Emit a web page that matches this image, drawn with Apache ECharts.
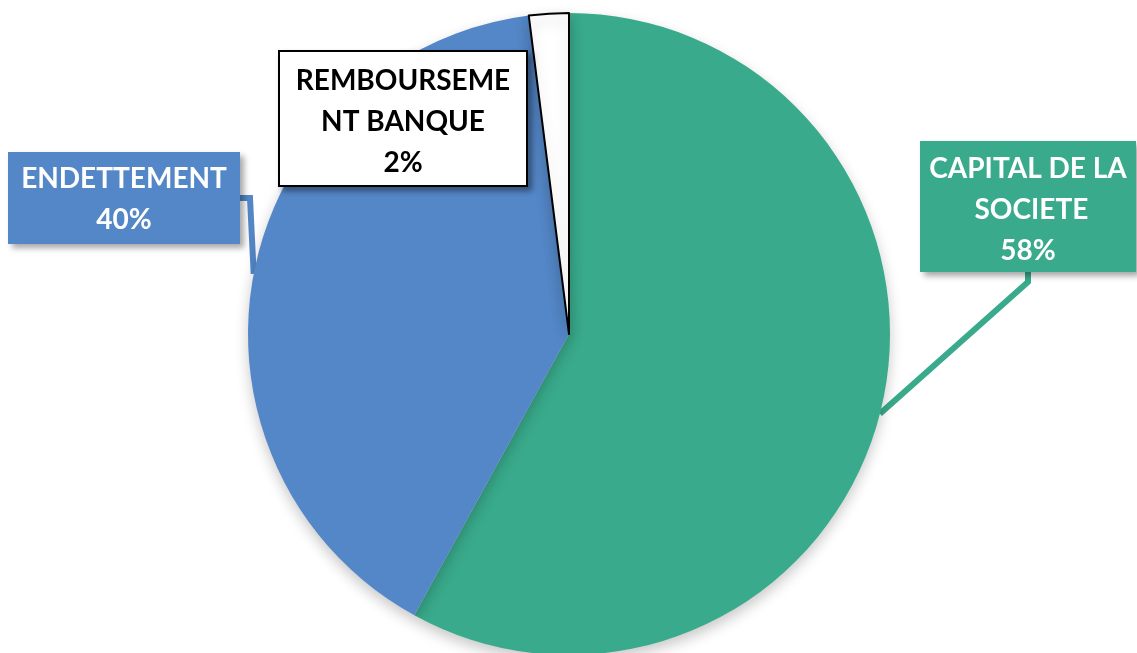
<!DOCTYPE html>
<html>
<head>
<meta charset="utf-8">
<script src="https://cdn.jsdelivr.net/npm/echarts@6/dist/echarts.min.js"></script>
<style>html,body{margin:0;padding:0;background:#fff}#c{width:1137px;height:653px}</style>
</head>
<body>
<div id="c"></div>
<script>
var categories = ['CAPITAL DE LA SOCIETE', 'ENDETTEMENT', 'REMBOURSEMENT BANQUE'];
var values = [58, 40, 2];
var colors = ['#39AA8B', '#5487C7', '#FFFFFF'];

var labelBoxes = [
  {cx: 1028, top: 141, width: 204, pad: [7, 6, 1, 6], bg: '#39AA8B', fg: '#FFFFFF', border: null, overflow: 'break'},
  {cx: 124, top: 152, width: 212, pad: [6, 10, 4, 10], bg: '#5487C7', fg: '#FFFFFF', border: null, overflow: 'break'},
  {cx: 403, top: 52, width: 222, pad: [8, 12, 2, 12], bg: '#FFFFFF', fg: '#000000', border: '#000000', overflow: 'breakAll'}
];

var data = categories.map(function (name, i) {
  var b = labelBoxes[i];
  return {
    name: name,
    value: values[i],
    itemStyle: {
      color: colors[i],
      borderColor: i === 2 ? '#000' : 'transparent',
      borderWidth: i === 2 ? 2 : 0
    },
    label: {
      color: b.fg,
      backgroundColor: b.bg,
      borderColor: b.border || 'transparent',
      borderWidth: b.border ? 2 : 0,
      padding: b.pad,
      width: b.width,
      overflow: b.overflow
    },
    labelLine: {
      lineStyle: {
        color: i === 2 ? '#000' : b.bg,
        width: i === 2 ? 1.5 : 6
      }
    }
  };
});

var chart = echarts.init(document.getElementById('c'), null, {renderer: 'canvas'});
chart.setOption({
  backgroundColor: '#fff',
  animation: false,
  series: [{
    type: 'pie',
    center: [569, 334],
    radius: 321,
    startAngle: 90,
    clockwise: true,
    data: data,
    itemStyle: {
      shadowBlur: 14,
      shadowColor: 'rgba(0,0,0,0.22)',
      shadowOffsetY: 6
    },
    label: {
      show: true,
      formatter: '{b}\n{d}%',
      fontFamily: 'Lato',
      fontWeight: 'bold',
      fontSize: 28,
      lineHeight: 41,
      align: 'center',
      shadowBlur: 6,
      shadowColor: 'rgba(0,0,0,0.35)',
      shadowOffsetX: 4,
      shadowOffsetY: 4,
      textShadowBlur: 0
    },
    labelLine: {show: true, length: 10, length2: 10, smooth: false},
    labelLayout: function (params) {
      var b = labelBoxes[params.dataIndex];
      return {x: b.cx, y: b.top, align: 'center', verticalAlign: 'top'};
    },
    emphasis: {disabled: true}
  }]
});
</script>
</body>
</html>
